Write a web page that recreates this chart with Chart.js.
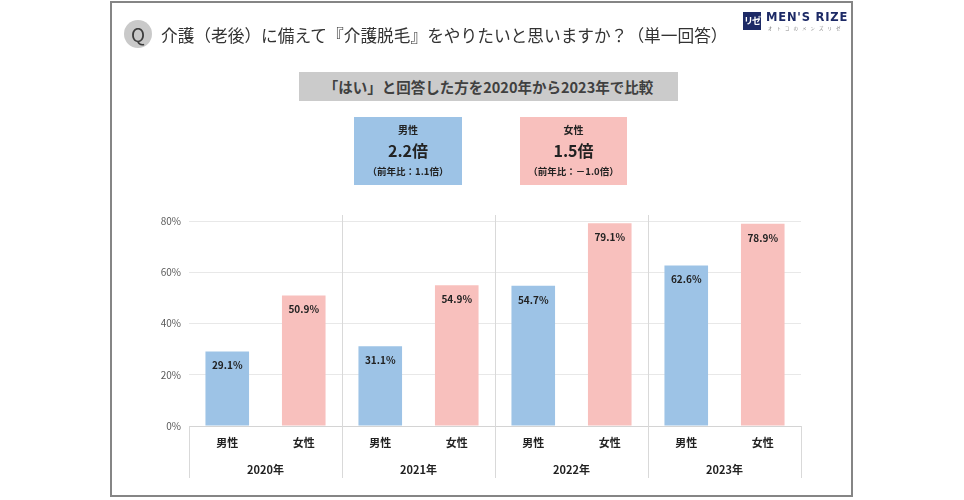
<!DOCTYPE html>
<html lang="ja">
<head>
<meta charset="utf-8">
<script src="https://cdn.jsdelivr.net/npm/chart.js@4.4.1/dist/chart.umd.min.js"></script>
<style>
  body { margin: 0; background: #fff; font-family: "Noto Sans CJK JP", "Noto Sans", sans-serif; }
  #wrap { position: relative; width: 964px; height: 500px; overflow: hidden; }
  #chart { position: absolute; left: 0; top: 0; }
  .frame { position: absolute; left: 110px; top: 1px; width: 743px; height: 496px; box-sizing: border-box; border: 2px solid #858585; }
  .q { position: absolute; left: 124px; top: 20px; width: 28px; height: 28px; border-radius: 50%; background: #c9c9c9;
       color: #3c3c3c; font-size: 19px; line-height: 28px; text-align: center; }
  .title { position: absolute; left: 161px; top: 23px; font-size: 16.7px; color: #333; white-space: nowrap; line-height: 24px; }
  .logo-box { position: absolute; left: 743px; top: 12px; width: 18px; height: 18px; background: #1d2a66; color: #fff;
              font-size: 9px; font-weight: bold; line-height: 18px; text-align: center; letter-spacing: -1px; }
  .logo-txt { position: absolute; left: 766px; top: 10px; font-family: "DejaVu Sans", sans-serif; font-weight: bold; font-size: 11.5px;
              color: #1d2a66; letter-spacing: 0.8px; white-space: nowrap; }
  .logo-sub { position: absolute; left: 768px; top: 25px; font-size: 4.5px; color: #8a8a8a; letter-spacing: 4px; white-space: nowrap; }
  .banner { position: absolute; left: 299px; top: 72px; width: 379px; height: 29px; background: #cbcbcb; color: #404040;
            font-size: 14.5px; font-weight: bold; line-height: 29px; text-align: center; white-space: nowrap; }
  .box { position: absolute; top: 117px; width: 108px; height: 68px; text-align: center; color: #222; font-weight: bold; }
  .box .l1 { position: absolute; left: 0; right: 0; top: 5px; font-size: 10px; }
  .box .l2 { position: absolute; left: 0; right: 0; top: 21px; font-size: 16px; }
  .box .l3 { position: absolute; left: 0; right: 0; top: 47px; font-size: 9.5px; }
</style>
</head>
<body>
<div id="wrap">
  <canvas id="chart" width="964" height="500"></canvas>
  <div class="frame"></div>
  <div class="q">Q</div>
  <div class="title">介護（老後）に備えて『介護脱毛』をやりたいと思いますか？（単一回答）</div>
  <div class="logo-box">リゼ</div>
  <div class="logo-txt">MEN'S RIZE</div>
  <div class="logo-sub">オトコのメンズリゼ</div>
  <div class="banner">「はい」と回答した方を2020年から2023年で比較</div>
  <div class="box" style="left:354px;background:#9dc3e6;">
    <div class="l1">男性</div><div class="l2">2.2倍</div><div class="l3">（前年比：1.1倍）</div>
  </div>
  <div class="box" style="left:520px;width:107px;background:#f8c0bd;">
    <div class="l1">女性</div><div class="l2">1.5倍</div><div class="l3">（前年比：－1.0倍）</div>
  </div>
</div>
<script>
var categories = ['男性', '女性', '男性', '女性', '男性', '女性', '男性', '女性'];
var years = ['2020年', '2021年', '2022年', '2023年'];
var values = [29.1, 50.9, 31.1, 54.9, 54.7, 79.1, 62.6, 78.9];
var yTicks = [0, 20, 40, 60, 80];

var blue = '#9dc3e6';
var pink = '#f8c0bd';
var font = '"Noto Sans CJK JP", sans-serif';

// separators + year row under the category labels
var groupAxis = {
  id: 'groupAxis',
  afterDraw: function(chart) {
    var ctx = chart.ctx;
    var area = chart.chartArea;
    var x = chart.scales.x;
    var half = (x.getPixelForValue(1) - x.getPixelForValue(0)) / 2;
    var bottom = area.bottom + 52;
    ctx.save();
    ctx.strokeStyle = '#d9d9d9';
    ctx.lineWidth = 1;
    for (var i = 0; i <= years.length; i++) {
      var px = i < years.length ? x.getPixelForValue(i * 2) - half : x.getPixelForValue(i * 2 - 1) + half;
      var top = (i == 0 || i == years.length) ? area.bottom : area.top - 6;
      ctx.beginPath();
      ctx.moveTo(Math.round(px) + 0.5, top);
      ctx.lineTo(Math.round(px) + 0.5, bottom);
      ctx.stroke();
    }
    ctx.fillStyle = '#222';
    ctx.font = 'bold 11px ' + font;
    ctx.textAlign = 'center';
    ctx.textBaseline = 'middle';
    years.forEach(function(y, i) {
      var cx = (x.getPixelForValue(i * 2) + x.getPixelForValue(i * 2 + 1)) / 2;
      ctx.fillText(y, cx, area.bottom + 44);
    });
    ctx.restore();
  },
  afterDatasetsDraw: function(chart) {
    var ctx = chart.ctx;
    var meta = chart.getDatasetMeta(0);
    ctx.save();
    ctx.fillStyle = '#222';
    ctx.font = 'bold 10px ' + font;
    ctx.textAlign = 'center';
    ctx.textBaseline = 'middle';
    meta.data.forEach(function(bar, i) {
      ctx.fillText(values[i].toFixed(1) + '%', bar.x, bar.y + 14);
    });
    ctx.restore();
  }
};

new Chart(document.getElementById('chart'), {
  type: 'bar',
  data: {
    labels: categories,
    datasets: [{
      data: values,
      backgroundColor: values.map(function(v, i) { return i % 2 ? pink : blue; }),
      borderWidth: 0,
      barPercentage: 0.57,
      categoryPercentage: 1
    }]
  },
  options: {
    responsive: false,
    animation: false,
    layout: { padding: { left: 0, top: 221, right: 163, bottom: 22 } },
    plugins: { legend: { display: false }, tooltip: { enabled: false } },
    scales: {
      x: {
        grid: { display: false },
        border: { display: true, color: '#d4d4d4' },
        ticks: { color: '#222', font: { family: font, size: 11, weight: 'bold' }, padding: 2, maxRotation: 0, autoSkip: false },
        afterFit: function(s) { s.height = 52; }
      },
      y: {
        min: yTicks[0],
        max: yTicks[yTicks.length - 1],
        afterBuildTicks: function(s) { s.ticks = yTicks.map(function(v) { return { value: v }; }); },
        grid: { color: '#e8e8e8', drawTicks: false },
        border: { display: false },
        ticks: { color: '#595959', font: { family: font, size: 10 }, padding: 8, callback: function(v) { return v + '%'; } },
        afterFit: function(s) { s.width = 189; }
      }
    }
  },
  plugins: [groupAxis]
});
</script>
</body>
</html>
